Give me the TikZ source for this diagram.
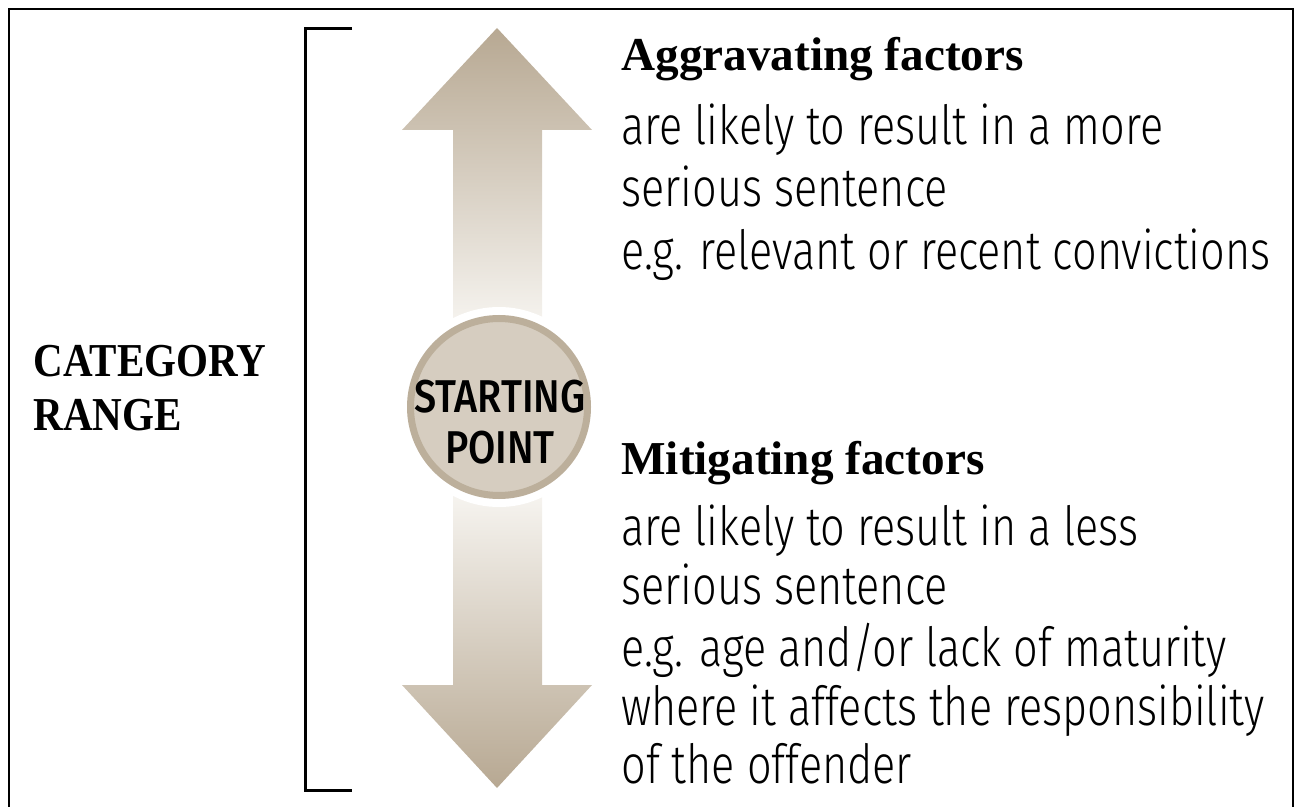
\documentclass[tikz,border=0pt]{standalone}
\usepackage{fontspec}
\setmainfont{Fira Sans Light}[FakeStretch=0.8]
\newfontfamily\pointfont{Fira Sans Medium}[FakeStretch=0.86]
\newfontfamily\headfont{Liberation Serif}
\newfontfamily\rangefont{Liberation Serif}[FakeStretch=0.87]
\usepackage{tikz}

\definecolor{tandark}{RGB}{183,168,146}
\definecolor{tanlight}{RGB}{247,245,241}
\definecolor{discfill}{RGB}{214,205,192}
\definecolor{discring}{RGB}{188,175,155}

\tikzset{
  body/.style={anchor=base west, inner sep=0pt, font=\fontsize{27}{32}\selectfont},
  heading/.style={anchor=base west, inner sep=0pt, font=\headfont\bfseries\fontsize{23.6}{28}\selectfont},
  rangetext/.style={anchor=base west, inner sep=0pt, font=\rangefont\bfseries\fontsize{23.6}{28}\selectfont},
  pointtext/.style={anchor=base, inner sep=0pt, font=\pointfont\fontsize{23}{26}\selectfont},
  frameline/.style={line width=0.75pt},
  bracket/.style={line width=1.5pt},
}

\begin{document}
\begin{tikzpicture}[x=0.5pt, y=-0.5pt]
\useasboundingbox (0,0) rectangle (1300,807);

% Outer frame
\draw[frameline] (9,807) -- (9,9) -- (1293,9) -- (1293,807);

% Range bracket
\draw[bracket] (352,29) -- (305,29) -- (305,790) -- (352,790);

\path
(33,377) node[rangetext] (range1) {CATEGORY};
\path
(33,430) node[rangetext] (range2) {RANGE};

%
% Arrows
%

% Up arrow
\shade[top color=tandark, bottom color=tanlight]
(497,28) -- (592,130) -- (542,130) -- (542,330) -- (453,330) -- (453,130) -- (402,130) -- cycle;

% Down arrow
\shade[top color=tanlight, bottom color=tandark]
(453,490) -- (542,490) -- (542,685) -- (592,685) -- (497,788) -- (402,685) -- (453,685) -- cycle;

% Starting point disc
\fill[white] (499,407) circle [radius=100];
\filldraw[fill=discfill, draw=discring, line width=3.5pt] (499,407) circle [radius=88.5];

\path
(500,413) node[pointtext] (start1) {STARTING};
\path
(500,463) node[pointtext] (start2) {POINT};

%
% Aggravating factors
%
\path
(621,71) node[heading] (aggr) {Aggravating factors};
\path
(621,145) node[body] (aggr1) {are likely to result in a more};
\path
(621,207) node[body] (aggr2) {serious sentence};
\path
(621,270) node[body] (aggr3) {e.g. relevant or recent convictions};

%
% Mitigating factors
%
\path
(621,474) node[heading] (miti) {Mitigating factors};
\path
(621,545) node[body] (miti1) {are likely to result in a less};
\path
(621,604) node[body] (miti2) {serious sentence};
\path
(621,666) node[body] (miti3) {e.g. age and/or lack of maturity};
\path
(621,725) node[body] (miti4) {where it affects the responsibility};
\path
(621,783) node[body] (miti5) {of the offender};

\end{tikzpicture}
\end{document}
